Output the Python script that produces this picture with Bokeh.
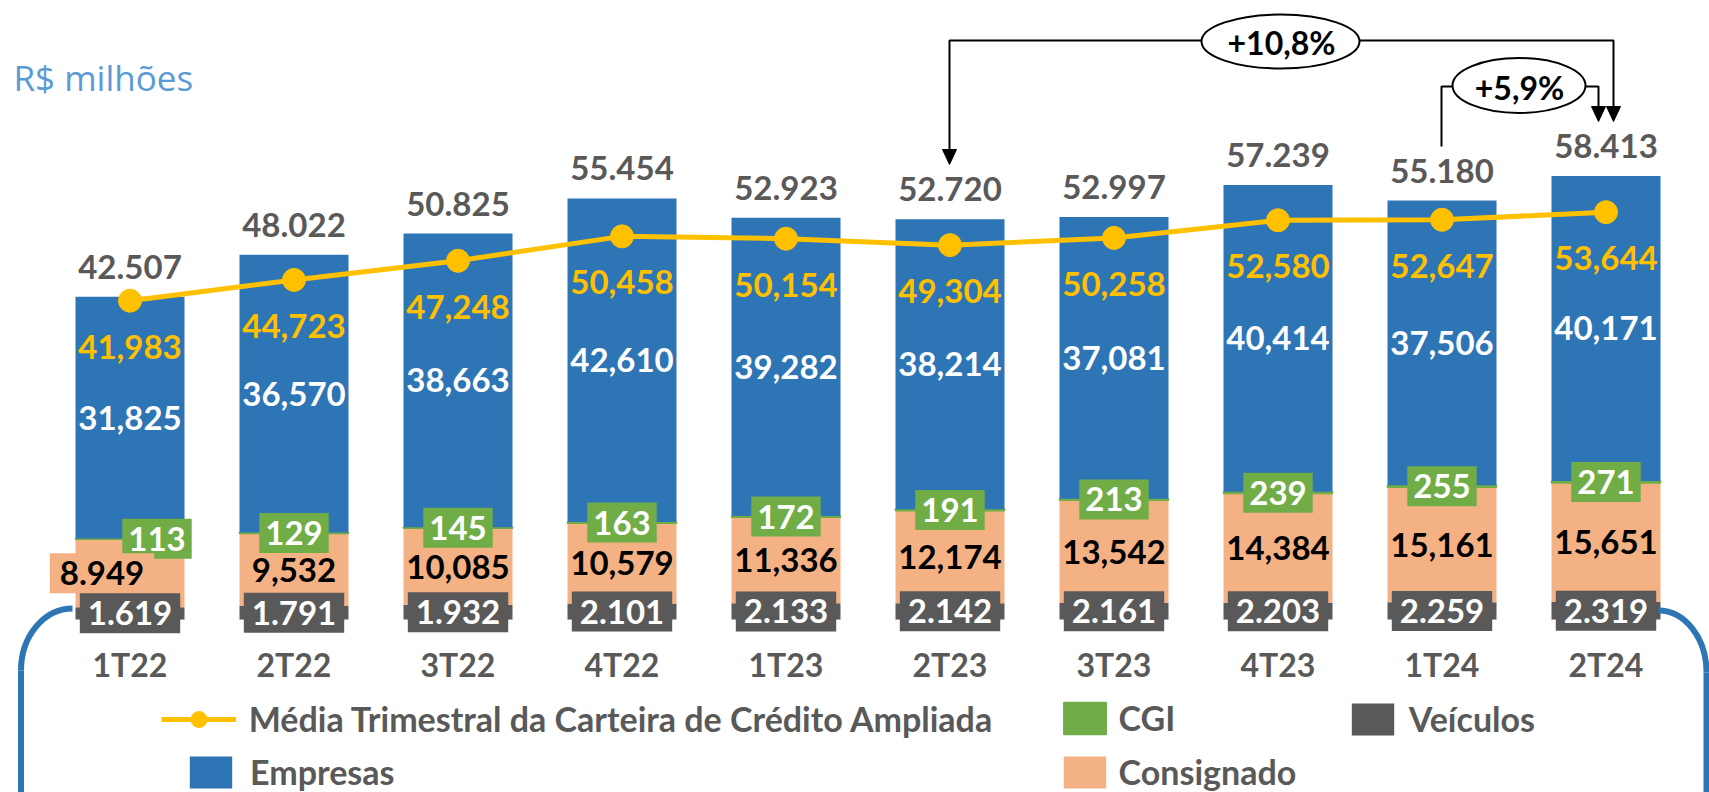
from bokeh.plotting import figure
from bokeh.models import (ColumnDataSource, Range1d, LinearAxis, FixedTicker, Legend,
                          LegendItem, CDSView, IndexFilter)
from bokeh.core.properties import value
from bokeh.embed import file_html
from bokeh.resources import INLINE

# ---------------- data ----------------
quarters = ["1T22", "2T22", "3T22", "4T22", "1T23", "2T23", "3T23", "4T23", "1T24", "2T24"]
veiculos = [1619, 1791, 1932, 2101, 2133, 2142, 2161, 2203, 2259, 2319]
consignado = [8949, 9532, 10085, 10579, 11336, 12174, 13542, 14384, 15161, 15651]
cgi = [113, 129, 145, 163, 172, 191, 213, 239, 255, 271]
empresas = [31825, 36570, 38663, 42610, 39282, 38214, 37081, 40414, 37506, 40171]
totals = [42507, 48022, 50825, 55454, 52923, 52720, 52997, 57239, 55180, 58413]
media = [41983, 44723, 47248, 50458, 50154, 49304, 50258, 52580, 52647, 53644]
growth_labels = ["+10,8%", "+5,9%"]

# ---------------- styling ----------------
BLUE, GREEN, ORANGE, GRAY, YELLOW = "#2E75B6", "#70AD47", "#F4B183", "#595959", "#FFC000"
FONT = value("Lato")
W, H = 1709, 792
PX_PER_X = 164.0
X_CENTER0 = 129.5
UPP = 131.7
BASE = 619

def fmt(v, sep):
    return f"{v:,}".replace(",", sep)

xs = list(range(len(quarters)))
v_mid, c_mid, g_mid, e_mid = [], [], [], []
for v, c, g, e in zip(veiculos, consignado, cgi, empresas):
    v_mid.append(v / 2)
    c_mid.append(v + c / 2)
    g_mid.append(v + c + g / 2)
    e_mid.append(v + c + g + e / 2)

src = ColumnDataSource(dict(
    x=xs, q=quarters, veic=veiculos, cons=consignado, cgi=cgi, emp=empresas,
    tot=totals, med=media,
    v_mid=v_mid, c_mid=c_mid, g_mid=g_mid, e_mid=e_mid,
    tot_lbl=[fmt(t, ".") for t in totals],
    emp_lbl=[fmt(e, ",") for e in empresas],
    med_lbl=[fmt(m, ",") for m in media],
    cgi_lbl=[str(g) for g in cgi],
    cons_lbl=[fmt(c, "." if i == 0 else ",") for i, c in enumerate(consignado)],
    veic_lbl=[fmt(v, ".") for v in veiculos],
    cgi_dx=[27] + [0] * 9,
    cons_dx=[-28] + [0] * 9,
))

x0 = -X_CENTER0 / PX_PER_X
p = figure(width=W, height=H, output_backend="svg", toolbar_location=None,
           x_range=Range1d(x0, x0 + W / PX_PER_X),
           y_range=Range1d(-(H - BASE) * UPP, BASE * UPP),
           x_axis_type=None, y_axis_type=None, min_border=0,
           outline_line_color=None, background_fill_color="white")
p.extra_x_ranges = {"px": Range1d(0, W)}
p.extra_y_ranges = {"px": Range1d(H, 0)}
PX = dict(x_range_name="px", y_range_name="px")

# stacked bars
rs = p.vbar_stack(["veic", "cons", "cgi", "emp"], x="x", width=109 / PX_PER_X,
                  color=[GRAY, ORANGE, GREEN, BLUE], line_color=None, source=src)
rs[2].glyph.line_color = GREEN
rs[2].glyph.line_width = 1.5

# average line
r_line = p.line("x", "med", source=src, line_color=YELLOW, line_width=5)
r_pts = p.scatter("x", "med", source=src, size=23, color=YELLOW)

common = dict(text_font=FONT, text_font_style="bold", text_font_size="33px",
              text_align="center", text_baseline="middle", source=src)

p.text("x", "tot", text="tot_lbl", y_offset=-30, text_color=GRAY, **common)
p.text("x", "e_mid", text="emp_lbl", text_color="white", **common)
p.text("x", "med", text="med_lbl", y_offset=46, text_color=YELLOW, **common)
p.text("x", "c_mid", text="cons_lbl", x_offset="cons_dx", text_color="black",
       view=CDSView(filter=IndexFilter(list(range(1, 10)))), **common)
p.text("x", "g_mid", text="cgi_lbl", x_offset="cgi_dx", text_color="white",
       background_fill_color=GREEN, padding=dict(left=6, right=6, top=8, bottom=8), **common)
p.text("x", "c_mid", text="cons_lbl", x_offset="cons_dx", text_color="black",
       background_fill_color=ORANGE, padding=dict(left=10, right=10, top=8, bottom=8),
       view=CDSView(filter=IndexFilter([0])), **common)
p.text("x", "v_mid", text="veic_lbl", text_color="white",
       background_fill_color=GRAY, padding=dict(left=8, right=8, top=8, bottom=8), **common)

# category axis
ax = LinearAxis(fixed_location=0, ticker=FixedTicker(ticks=xs),
                major_label_overrides={i: q for i, q in enumerate(quarters)},
                axis_line_color=None, major_tick_line_color=None, minor_tick_line_color=None,
                major_label_standoff=19, major_label_text_font="Lato",
                major_label_text_font_style="bold", major_label_text_font_size="32px",
                major_label_text_color=GRAY)
p.add_layout(ax, "below")

# title
p.text(x=[13], y=[77], text=["R$ milhões"], text_font=value("Open Sans"),
       text_font_size="35px", text_color="#5B9BD5", text_baseline="middle", **PX)

# decorative blue brackets
k = 0.5523
lx0, ly0, lx1, ly1 = 72, 608, 20.5, 670
p.bezier(x0=[lx0], y0=[ly0], x1=[lx1], y1=[ly1],
         cx0=[lx0 - k * (lx0 - lx1)], cy0=[ly0], cx1=[lx1], cy1=[ly1 - k * (ly1 - ly0)],
         line_color=BLUE, line_width=6, **PX)
p.segment(x0=[lx1], y0=[ly1], x1=[lx1], y1=[800], line_color=BLUE, line_width=6, **PX)
rx0, ry0, rx1, ry1 = 1658, 610, 1706, 672
p.bezier(x0=[rx0], y0=[ry0], x1=[rx1], y1=[ry1],
         cx0=[rx0 + k * (rx1 - rx0)], cy0=[ry0], cx1=[rx1], cy1=[ry1 - k * (ry1 - ry0)],
         line_color=BLUE, line_width=6, **PX)
p.segment(x0=[rx1], y0=[ry1], x1=[rx1], y1=[800], line_color=BLUE, line_width=6, **PX)

# growth brackets
p.multi_line(xs=[[949, 949, 1613, 1613], [1441, 1441, 1598, 1598]],
             ys=[[150, 40, 40, 108], [146, 86, 86, 108]],
             line_color="black", line_width=2, **PX)
tips = [(949, 164), (1613, 121), (1598, 121)]
p.patches(xs=[[tx - 7, tx + 7, tx] for tx, ty in tips],
          ys=[[ty - 15, ty - 15, ty] for tx, ty in tips],
          fill_color="black", line_color="black", **PX)
p.ellipse(x=[1280, 1518.5], y=[41, 85], width=[158, 133], height=[54, 55],
          fill_color="white", line_color="black", line_width=2, **PX)
p.text(x=[1281, 1519], y=[42, 87], text=growth_labels, text_font=FONT,
       text_font_style="bold", text_font_size="32px", text_color="black",
       text_align="center", text_baseline="middle", **PX)

# legends
leg_style = dict(margin=0, padding=0, border_line_color=None, background_fill_alpha=0,
                 glyph_height=40, label_height=40, label_text_font="Lato",
                 label_text_font_style="bold", label_text_font_size="34px",
                 label_text_color=GRAY, spacing=13)
legends = [
    Legend(items=[LegendItem(label="Média Trimestral da Carteira de Crédito Ampliada",
                             renderers=[r_line, r_pts])],
           location=(160.7, 53), glyph_width=75, label_standoff=13, **leg_style),
    Legend(items=[LegendItem(label="Empresas", renderers=[rs[3]])],
           location=(184, 0), glyph_width=53, label_standoff=13, **leg_style),
    Legend(items=[LegendItem(label="CGI", renderers=[rs[2]]),
                  LegendItem(label="Consignado", renderers=[rs[1]])],
           location=(1057.6, 0), glyph_width=53, label_standoff=8, **leg_style),
    Legend(items=[LegendItem(label="Veículos", renderers=[rs[0]])],
           location=(1345.8, 53), glyph_width=53, label_standoff=10, **leg_style),
]
for lg in legends:
    p.add_layout(lg, "center")

open("out.html", "w").write(file_html(p, INLINE))
